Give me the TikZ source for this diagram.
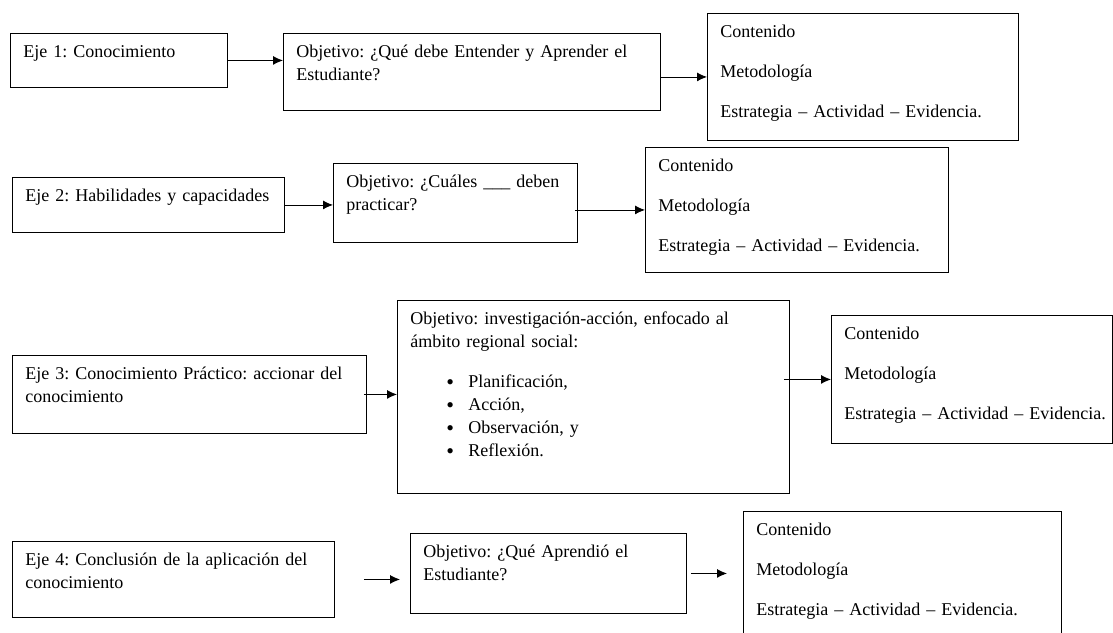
\documentclass[tikz,border=0pt]{standalone}
\usepackage{fontspec}
\setmainfont{Liberation Serif}
\usetikzlibrary{arrows.meta}
\newcommand{\cmeta}{Contenido\\[17pt]Metodología\\[17pt]\mbox{Estrategia – Actividad – Evidencia.}}
\newcommand{\bul}{\hspace*{36pt}\makebox[22pt][l]{\raisebox{-2.5pt}{\fontsize{22}{23}\selectfont\textbullet}}}

\begin{document}
\begin{tikzpicture}[x=1pt, y=-1pt,
  every node/.style={font=\fontsize{18}{23}\selectfont,
    execute at begin node={\frenchspacing\hyphenpenalty=10000\relax}},
  box/.style={draw, line width=0.9pt, anchor=north west, align=left,
    inner xsep=13pt, inner ysep=0pt, text height=24pt},
  arr/.style={>={Latex[length=10pt,width=9pt]}, ->, line width=0.9pt}]
\useasboundingbox (0,0) rectangle (1113,632);
\clip (0,0) rectangle (1113,632);

\node[box, text width=191pt, text depth=30pt] (eje1) at (10,33) {Eje 1: Conocimiento};
\node[box, text width=351pt, text depth=53pt] (obj1) at (283,33) {Objetivo: ¿Qué debe Entender y Aprender el\\Estudiante?};
\node[box, text width=285pt, text depth=103pt] (cont1) at (707,13) {\cmeta};
\draw[arr] (eje1.east) -- (eje1.east -| obj1.west);
\draw[arr] (obj1.east |- cont1.west) -- (cont1.west);

\node[box, text width=246pt, text depth=31pt] (eje2) at (12,177) {\mbox{Eje 2: Habilidades y capacidades}};
\node[box, text width=218pt, text depth=55pt] (obj2) at (333,163) {Objetivo: ¿Cuáles \_\_\_ deben\\practicar?};
\node[box, text width=277pt, text depth=101pt] (cont2) at (645,147) {\cmeta};
\draw[arr] (eje2.east) -- (eje2.east -| obj2.west);
\draw[arr] ([xshift=-3pt]obj2.east |- cont2.west) -- (cont2.west);

\node[box, text width=328pt, text depth=54pt] (eje3) at (12,355) {Eje 3: Conocimiento Práctico: accionar del\\conocimiento};
\node[box, text width=366pt, text depth=169pt] (obj3) at (397,300) {Objetivo: investigación-acción, enfocado al\\ámbito regional social:\\[17pt]
  \bul Planificación,\\
  \bul Acción,\\
  \bul Observación, y\\
  \bul Reflexión.};
\node[box, text width=255pt, text depth=104pt] (cont3) at (831,315) {\cmeta};
\draw[arr] ([xshift=-3pt]eje3.east) -- (eje3.east -| obj3.west);
\draw[arr] ([xshift=-6pt]obj3.east |- cont3.west) -- (cont3.west);

\node[box, text width=296pt, text depth=52pt] (eje4) at (12,541) {Eje 4: Conclusión de la aplicación del\\conocimiento};
\node[box, text width=250pt, text depth=56pt] (obj4) at (410,533) {Objetivo: ¿Qué Aprendió el\\Estudiante?};
\node[box, text width=292pt, text depth=103pt] (cont4) at (743,511) {\cmeta};
\draw[arr, shorten <=29pt, shorten >=10pt] (eje4.east) -- (eje4.east -| obj4.west);
\draw[arr, shorten <=4pt, shorten >=16pt] (obj4.east) -- (obj4.east -| cont4.west);
\end{tikzpicture}
\end{document}
